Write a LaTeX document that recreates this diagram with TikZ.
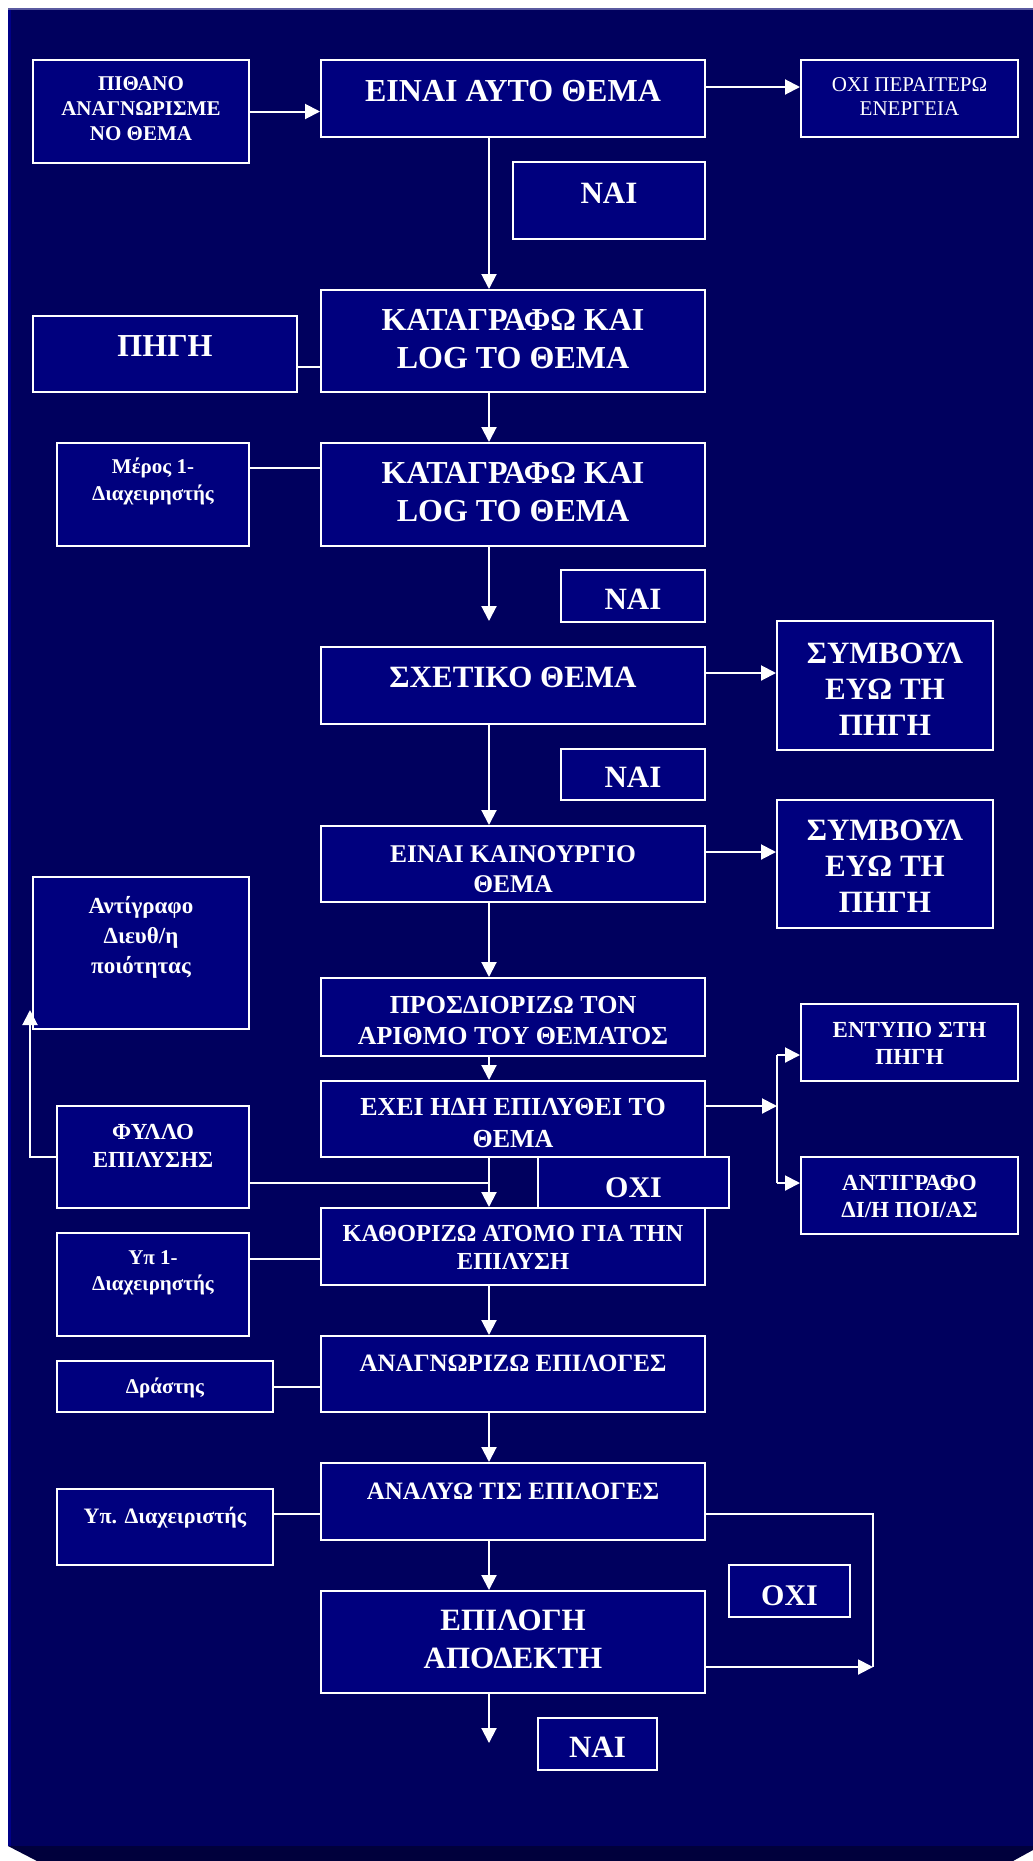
\documentclass[tikz,border=0pt]{standalone}
\usepackage{fontspec}
\setmainfont{Liberation Serif}
\usetikzlibrary{arrows.meta}
\definecolor{bgnavy}{HTML}{00005E}
\definecolor{boxnavy}{HTML}{00007E}
\definecolor{bevelnavy}{HTML}{00003C}
\definecolor{edgenavy}{HTML}{000088}
\definecolor{toplight}{HTML}{5A5AA0}
\newcommand{\myfb}[2]{\fontsize{#1}{#2}\selectfont\bfseries}
\newcommand{\myfr}[2]{\fontsize{#1}{#2}\selectfont}
\begin{document}
\begin{tikzpicture}[x=1pt,y=-1pt,
  box/.style={draw=white, line width=2pt, fill=boxnavy, inner sep=0pt},
  txt/.style={text=white, align=center, anchor=north, inner sep=0pt},
  conn/.style={draw=white, line width=2pt},
  arr/.style={conn, -{Triangle[length=15pt,width=15pt]}},
]
\useasboundingbox (0,0) rectangle (1033,1861);
% background
\fill[white] (0,0) rectangle (1033,1861);
\fill[bgnavy] (8,8) rectangle (1033,1846);
\fill[edgenavy] (8,8) rectangle (11,1846);
\fill[toplight] (8,8) rectangle (1033,9.5);
\fill[bevelnavy] (8,1846) -- (1033,1846) -- (1033,1850) -- (1013,1861) -- (37,1861) -- cycle;

% boxes
\node[box, minimum width=216pt, minimum height=103pt] (pithano) at (141,111.5) {};
\node[box, minimum width=384pt, minimum height=77pt] (einai) at (513,98.5) {};
\node[box, minimum width=217pt, minimum height=77pt] (oxiper) at (909.5,98.5) {};
\node[box, minimum width=192pt, minimum height=77pt] (nai1) at (609,200.5) {};
\node[box, minimum width=384pt, minimum height=102pt] (kat1) at (513,341) {};
\node[box, minimum width=264pt, minimum height=76pt] (pigi) at (165,354) {};
\node[box, minimum width=384pt, minimum height=103pt] (kat2) at (513,494.5) {};
\node[box, minimum width=192pt, minimum height=103pt] (meros) at (153,494.5) {};
\node[box, minimum width=144pt, minimum height=52pt] (nai2) at (633,596) {};
\node[box, minimum width=384pt, minimum height=77pt] (sxet) at (513,685.5) {};
\node[box, minimum width=216pt, minimum height=129pt] (symb1) at (885,685.5) {};
\node[box, minimum width=144pt, minimum height=51pt] (nai3) at (633,774.5) {};
\node[box, minimum width=384pt, minimum height=76pt] (kain) at (513,864) {};
\node[box, minimum width=216pt, minimum height=128pt] (symb2) at (885,864) {};
\node[box, minimum width=216pt, minimum height=152pt] (antigr) at (141,953) {};
\node[box, minimum width=384pt, minimum height=78pt] (pros) at (513,1017) {};
\node[box, minimum width=384pt, minimum height=76pt] (exei) at (513,1119) {};
\node[box, minimum width=217pt, minimum height=77pt] (entypo) at (909.5,1042.5) {};
\node[box, minimum width=217pt, minimum height=77pt] (antigrb) at (909.5,1195.5) {};
\node[box, minimum width=192pt, minimum height=102pt] (fyllo) at (153,1157) {};
\node[box, minimum width=384pt, minimum height=77pt] (kath) at (513,1246.5) {};
\node[box, minimum width=191pt, minimum height=51pt] (oxia) at (633.5,1182.5) {};
\node[box, minimum width=192pt, minimum height=103pt] (ypa) at (153,1284.5) {};
\node[box, minimum width=384pt, minimum height=76pt] (anagn) at (513,1374) {};
\node[box, minimum width=216pt, minimum height=51pt] (drastis) at (165,1386.5) {};
\node[box, minimum width=384pt, minimum height=77pt] (analy) at (513,1501.5) {};
\node[box, minimum width=216pt, minimum height=76pt] (ypdiax) at (165,1527) {};
\node[box, minimum width=384pt, minimum height=102pt] (epilogi) at (513,1642) {};
\node[box, minimum width=121pt, minimum height=52pt] (oxib) at (789.5,1591) {};
\node[box, minimum width=119pt, minimum height=52pt] (nai4) at (597.5,1744) {};

% texts
\node[txt, font=\myfb{21}{25}] (pithano-t) at (141,76.7) {ΠΙΘΑΝΟ\\ΑΝΑΓΝΩΡΙΣΜΕ\\ΝΟ ΘΕΜΑ};
\node[txt, font=\myfb{32}{38}] (einai-t) at (513,80) {ΕΙΝΑΙ ΑΥΤΟ ΘΕΜΑ};
\node[txt, font=\myfr{21}{24.5}] (oxiper-t) at (909.5,77.3) {ΟΧΙ ΠΕΡΑΙΤΕΡΩ\\ΕΝΕΡΓΕΙΑ};
\node[txt, font=\myfb{31}{37}] (nai1-t) at (609,182.7) {ΝΑΙ};
\node[txt, font=\myfb{32}{38}] (kat1-t) at (513,309) {ΚΑΤΑΓΡΑΦΩ ΚΑΙ\\LOG ΤΟ ΘΕΜΑ};
\node[txt, font=\myfb{32}{38}] (pigi-t) at (165,335) {ΠΗΓΗ};
\node[txt, font=\myfb{32}{38}] (kat2-t) at (513,461.7) {ΚΑΤΑΓΡΑΦΩ ΚΑΙ\\LOG ΤΟ ΘΕΜΑ};
\node[txt, font=\myfb{21}{27}] (meros-t) at (153,458) {Μέρος 1-\\Διαχειρηστής};
\node[txt, font=\myfb{31}{37}] (nai2-t) at (633,589) {ΝΑΙ};
\node[txt, font=\myfb{31}{37}] (sxet-t) at (513,667) {ΣΧΕΤΙΚΟ ΘΕΜΑ};
\node[txt, font=\myfb{31}{36}] (symb1-t) at (885,642.7) {ΣΥΜΒΟΥΛ\\ΕΥΩ ΤΗ\\ΠΗΓΗ};
\node[txt, font=\myfb{31}{37}] (nai3-t) at (633,767) {ΝΑΙ};
\node[txt, font=\myfb{25.5}{30}] (kain-t) at (513,845) {ΕΙΝΑΙ ΚΑΙΝΟΥΡΓΙΟ\\ΘΕΜΑ};
\node[txt, font=\myfb{31}{36}] (symb2-t) at (885,820) {ΣΥΜΒΟΥΛ\\ΕΥΩ ΤΗ\\ΠΗΓΗ};
\node[txt, font=\myfb{23}{30}] (antigr-t) at (141,896) {Αντίγραφο\\Διευθ/η\\ποιότητας};
\node[txt, font=\myfb{26}{31.3}] (pros-t) at (513,996) {ΠΡΟΣΔΙΟΡΙΖΩ ΤΟΝ\\ΑΡΙΘΜΟ ΤΟΥ ΘΕΜΑΤΟΣ};
\node[txt, font=\myfb{26}{31.7}] (exei-t) at (513,1098.3) {ΕΧΕΙ ΗΔΗ ΕΠΙΛΥΘΕΙ ΤΟ\\ΘΕΜΑ};
\node[txt, font=\myfb{23}{27.6}] (entypo-t) at (909.5,1021.7) {ΕΝΤΥΠΟ ΣΤΗ\\ΠΗΓΗ};
\node[txt, font=\myfb{23}{27}] (antigrb-t) at (909.5,1175) {ΑΝΤΙΓΡΑΦΟ\\ΔΙ/Η ΠΟΙ/ΑΣ};
\node[txt, font=\myfb{23}{27.4}] (fyllo-t) at (153,1124.3) {ΦΥΛΛΟ\\ΕΠΙΛΥΣΗΣ};
\node[txt, font=\myfb{30}{36}] (oxia-t) at (633.5,1177) {ΟΧΙ};
\node[txt, font=\myfb{24.5}{28.5}] (kath-t) at (513,1225) {ΚΑΘΟΡΙΖΩ ΑΤΟΜΟ ΓΙΑ ΤΗΝ\\ΕΠΙΛΥΣΗ};
\node[txt, font=\myfb{21}{26}] (ypa-t) at (153,1250) {Υπ 1-\\Διαχειρηστής};
\node[txt, font=\myfb{25}{30}] (anagn-t) at (513,1355) {ΑΝΑΓΝΩΡΙΖΩ ΕΠΙΛΟΓΕΣ};
\node[txt, font=\myfb{21}{25}] (drastis-t) at (165,1378) {Δράστης};
\node[txt, font=\myfb{25}{30}] (analy-t) at (513,1482.7) {ΑΝΑΛΥΩ ΤΙΣ ΕΠΙΛΟΓΕΣ};
\node[txt, font=\myfb{22}{26}] (ypdiax-t) at (165,1506.5) {Υπ. Διαχειριστής};
\node[txt, font=\myfb{31}{38}] (epilogi-t) at (513,1610) {ΕΠΙΛΟΓΗ\\ΑΠΟΔΕΚΤΗ};
\node[txt, font=\myfb{30}{36}] (oxib-t) at (789.5,1585) {ΟΧΙ};
\node[txt, font=\myfb{31}{37}] (nai4-t) at (597.5,1737.3) {ΝΑΙ};

% helper coordinates
\coordinate (cx) at (489,0);
\coordinate (endA) at (489,621);
\coordinate (endB) at (489,1743);
\coordinate (jmid) at (777,1106);
\coordinate (jtop) at (777,1055);
\coordinate (jbot) at (777,1183);
\coordinate (loopt) at (30,1010);
\coordinate (fjoin) at (489,1183);
\coordinate (rtop) at (873,1514);
\coordinate (rbot) at (873,1667);

% connectors
\draw[arr] (pithano.east) -- (pithano.east -| einai.west);
\draw[arr] ([yshift=11.5pt]einai.east) -- ([yshift=11.5pt]einai.east -| oxiper.west);
\draw[arr] (einai.south -| cx) -- (kat1.north -| cx);
\draw[conn] (pigi.east |- 0,367) -- (kat1.west |- 0,367);
\draw[arr] (kat1.south -| cx) -- (kat2.north -| cx);
\draw[conn] (meros.east |- 0,468) -- (kat2.west |- 0,468);
\draw[arr] (kat2.south -| cx) -- (endA);
\draw[arr] (sxet.east |- 0,673) -- (symb1.west |- 0,673);
\draw[arr] (sxet.south -| cx) -- (kain.north -| cx);
\draw[arr] (kain.east |- 0,852) -- (symb2.west |- 0,852);
\draw[arr] (kain.south -| cx) -- (pros.north -| cx);
\draw[arr] (pros.south -| cx) -- (exei.north -| cx);
\draw[arr] (exei.east |- jmid) -- (jmid);
\draw[conn] (jtop) -- (jbot);
\draw[arr] (jtop) -- (jtop -| entypo.west);
\draw[arr] (jbot) -- (jbot -| antigrb.west);
\draw[arr] (fyllo.west) -- (fyllo.west -| loopt) -- (loopt);
\draw[conn] (fyllo.east |- fjoin) -- (fjoin);
\draw[arr] (exei.south -| cx) -- (kath.north -| cx);
\draw[conn] (ypa.east |- 0,1259) -- (kath.west |- 0,1259);
\draw[arr] (kath.south -| cx) -- (anagn.north -| cx);
\draw[conn] (drastis.east) -- (drastis.east -| anagn.west);
\draw[arr] (anagn.south -| cx) -- (analy.north -| cx);
\draw[conn] (ypdiax.east |- rtop) -- (analy.west |- rtop);
\draw[conn] (analy.east |- rtop) -- (rtop) -- (rbot);
\draw[arr] (epilogi.east |- rbot) -- (rbot);
\draw[arr] (analy.south -| cx) -- (epilogi.north -| cx);
\draw[arr] (epilogi.south -| cx) -- (endB);
\end{tikzpicture}
\end{document}
